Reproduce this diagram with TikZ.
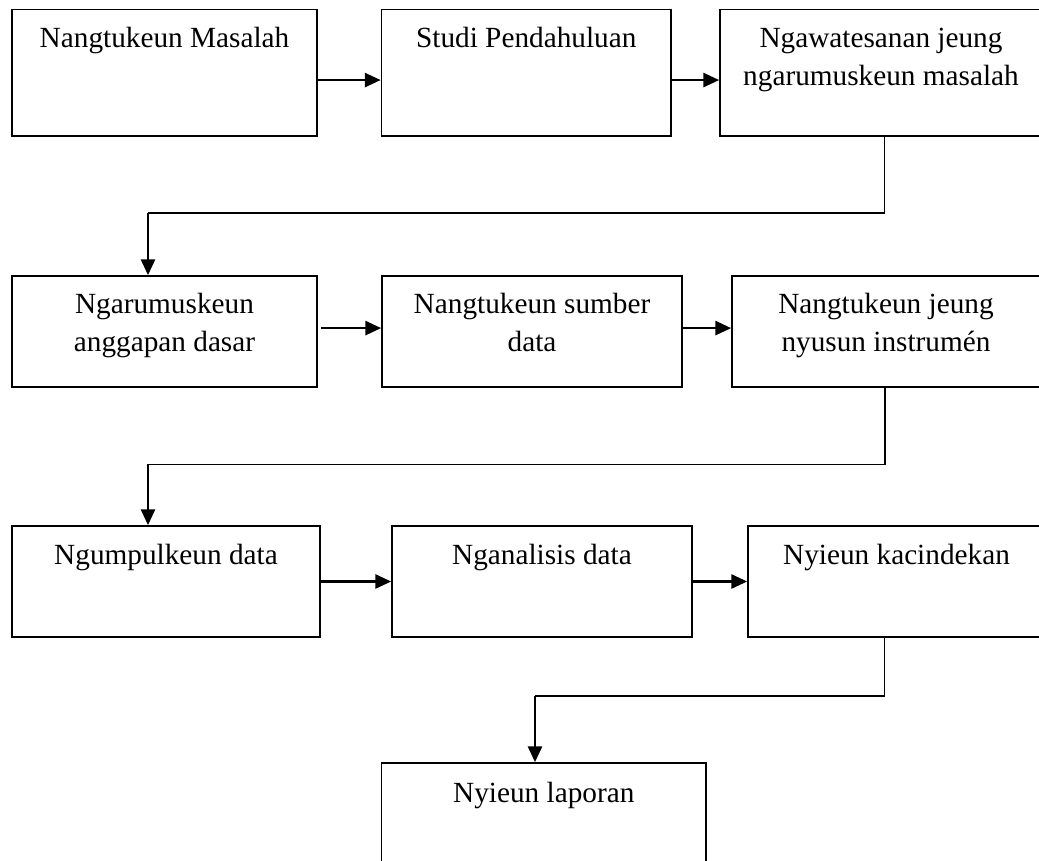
\documentclass[tikz,border=0pt]{standalone}
\usepackage{fontspec}
\setmainfont{Liberation Serif}
\usetikzlibrary{arrows.meta,positioning,fit}

\begin{document}
\begin{tikzpicture}[x=0.41pt,y=0.41pt]
\tikzstyle{kotak}=[draw=black, line width=0.7pt, inner sep=0pt]
\tikzstyle{teks}=[inner sep=0pt, align=center, font=\fontsize{12}{15.6}\selectfont]
\tikzstyle{panah}=[line width=1pt, -{Triangle[length=6.5pt,width=5.8pt]}]
\tikzstyle{garis}=[line width=0.7pt]
\clip (0,0) rectangle (1039,-861);
% baris 1
\node[kotak, fit={(12,-9.5) (317,-136)}] (b1) {};
\node[teks, below=7.6pt of b1.north] (t1) {Nangtukeun Masalah};
\node[kotak, fit={(381.5,-9.5) (671,-136)}] (b2) {};
\node[teks, below=7.6pt of b2.north] (t2) {Studi Pendahuluan};
\node[kotak, fit={(720,-9.5) (1042,-136)}] (b3) {};
\node[teks, below=7.6pt of b3.north] (t3) {Ngawatesanan jeung\\ngarumuskeun masalah};
\draw[panah] ([yshift=-3pt]b1.east) -- ([yshift=-3pt]b2.west);
\draw[panah] ([yshift=-3pt]b2.east) -- ([yshift=-3pt]b3.west);
% baris 2
\node[kotak, fit={(12,-276) (317,-387)}] (b4) {};
\node[teks, below=7.2pt of b4.north] (t4) {Ngarumuskeun\\anggapan dasar};
\node[kotak, fit={(382,-276) (682,-387)}] (b5) {};
\node[teks, below=7.2pt of b5.north] (t5) {Nangtukeun sumber\\data};
\node[kotak, fit={(732,-276) (1040,-387)}] (b6) {};
\node[teks, below=7.2pt of b6.north] (t6) {Nangtukeun jeung\\nyusun instrumén};
\draw[panah] ([xshift=1.2pt,yshift=1.4pt]b4.east) -- ([yshift=1.4pt]b5.west);
\draw[panah] ([yshift=1.4pt]b5.east) -- ([yshift=1.4pt]b6.west);
% baris 3
\node[kotak, fit={(12,-526) (320,-637)}] (b7) {};
\node[teks, below=7.6pt of b7.north] (t7) {Ngumpulkeun data};
\node[kotak, fit={(392,-526) (692,-637)}] (b8) {};
\node[teks, below=7.6pt of b8.north] (t8) {Nganalisis data};
\node[kotak, fit={(748,-526) (1045,-637)}] (b9) {};
\node[teks, below=7.6pt of b9.north] (t9) {Nyieun kacindekan};
\draw[panah] (b7.east) -- (b8.west);
\draw[panah] (b8.east) -- (b9.west);
% baris 4
\node[kotak, fit={(381.5,-763) (706,-875)}] (b10) {};
\node[teks, below=8pt of b10.north] (t10) {Nyieun laporan};
% sambungan antar baris
\coordinate (k1a) at (884.5,-213);
\coordinate (k1b) at (148,-213);
\draw[garis] (b3.south -| k1a) -- (k1a) -- (k1b);
\draw[panah] (k1b) -- (b4.north -| k1b);
\coordinate (k2a) at (885,-464.5);
\coordinate (k2b) at (148,-464.5);
\draw[garis] (b6.south -| k2a) -- (k2a) -- (k2b);
\draw[panah] (k2b) -- (b7.north -| k2b);
\coordinate (k3a) at (884.5,-696);
\coordinate (k3b) at (535,-696);
\draw[garis] (b9.south -| k3a) -- (k3a) -- (k3b);
\draw[panah] (k3b) -- (b10.north -| k3b);
\end{tikzpicture}
\end{document}
